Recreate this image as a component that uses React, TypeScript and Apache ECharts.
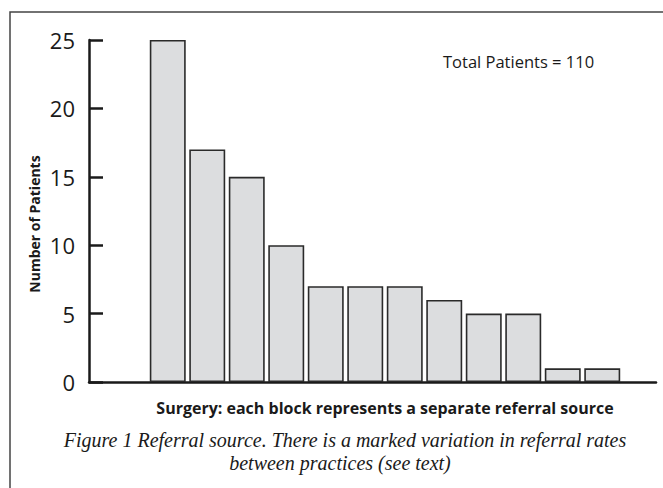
import React, { useEffect, useRef } from "react";
import * as echarts from "echarts";

const sources = ["1", "2", "3", "4", "5", "6", "7", "8", "9", "10", "11", "12"];
const patients = [25, 17, 15, 10, 7, 7, 7, 6, 5, 5, 1, 1];
const yMin = 0;
const yMax = 25;
const yStep = 5;
const yAxisTitle = "Number of Patients";
const xAxisTitle = "Surgery: each block represents a separate referral source";
const totalLabel = "Total Patients = 110";
const captionLines = [
  "Figure 1 Referral source. There is a marked variation in referral rates",
  "between practices (see text)",
];

const SANS = "'Open Sans', 'Noto Sans', sans-serif";
const SERIF = "'Liberation Serif', 'DejaVu Serif', serif";

export default function App() {
  const ref = useRef<HTMLDivElement>(null);

  useEffect(() => {
    document.body.style.margin = "0";
    if (!ref.current) return;
    const chart = echarts.init(ref.current, undefined, { renderer: "svg" });
    const axisColor = "#1a1a1a";
    chart.setOption({
      animation: false,
      backgroundColor: "#ffffff",
      grid: [
        { left: 89, right: 7, top: 40, bottom: 106 },
        { left: 148, right: 41, top: 40, bottom: 106 },
      ],
      xAxis: [
        {
          gridIndex: 0,
          type: "category",
          data: [""],
          axisLine: { show: true, lineStyle: { color: axisColor, width: 2.5 } },
          axisTick: { show: false },
          axisLabel: { show: false },
          splitLine: { show: false },
        },
        {
          gridIndex: 1,
          type: "category",
          data: sources,
          axisLine: { show: false },
          axisTick: { show: false },
          axisLabel: { show: false },
          splitLine: { show: false },
        },
      ],
      yAxis: [
        {
          gridIndex: 0,
          type: "value",
          min: yMin,
          max: yMax,
          interval: yStep,
          axisLine: { show: true, lineStyle: { color: axisColor, width: 2.5 } },
          axisTick: { show: true, inside: true, length: 14, lineStyle: { color: axisColor, width: 2.5 } },
          axisLabel: { fontSize: 22, color: "#1a1a1a", fontFamily: SANS, margin: 14 },
          splitLine: { show: false },
        },
        {
          gridIndex: 1,
          type: "value",
          min: yMin,
          max: yMax,
          interval: yStep,
          show: false,
          splitLine: { show: false },
        },
      ],
      series: [
        {
          type: "bar",
          xAxisIndex: 1,
          yAxisIndex: 1,
          data: patients,
          barCategoryGap: "9%",
          itemStyle: { color: "#dcdddf", borderColor: "#2a2a2a", borderWidth: 1.6 },
        },
      ],
      graphic: [
        {
          type: "rect",
          shape: { x: 10, y: 12, width: 720, height: 520 },
          style: { fill: "none", stroke: "#444", lineWidth: 1.5 },
          silent: true,
        },
        {
          type: "text",
          x: 34,
          y: 224,
          rotation: Math.PI / 2,
          style: {
            text: yAxisTitle,
            fontFamily: SANS,
            fontWeight: "bold",
            fontSize: 14,
            fill: "#1a1a1a",
            align: "center",
            verticalAlign: "middle",
          },
        },
        {
          type: "text",
          x: 385,
          y: 408,
          style: {
            text: xAxisTitle,
            fontFamily: SANS,
            fontWeight: "bold",
            fontSize: 16,
            fill: "#1a1a1a",
            align: "center",
            verticalAlign: "middle",
          },
        },
        {
          type: "text",
          x: 443,
          y: 61,
          style: {
            text: totalLabel,
            fontFamily: SANS,
            fontSize: 16.5,
            fill: "#1a1a1a",
            align: "left",
            verticalAlign: "middle",
          },
        },
        {
          type: "text",
          x: 345,
          y: 440,
          style: {
            text: captionLines[0],
            fontFamily: SERIF,
            fontStyle: "italic",
            fontSize: 20,
            fill: "#1a1a1a",
            align: "center",
            verticalAlign: "middle",
          },
        },
        {
          type: "text",
          x: 340,
          y: 463,
          style: {
            text: captionLines[1],
            fontFamily: SERIF,
            fontStyle: "italic",
            fontSize: 20,
            fill: "#1a1a1a",
            align: "center",
            verticalAlign: "middle",
          },
        },
      ],
    });
    return () => chart.dispose();
  }, []);

  return <div ref={ref} style={{ width: 663, height: 488 }} />;
}
